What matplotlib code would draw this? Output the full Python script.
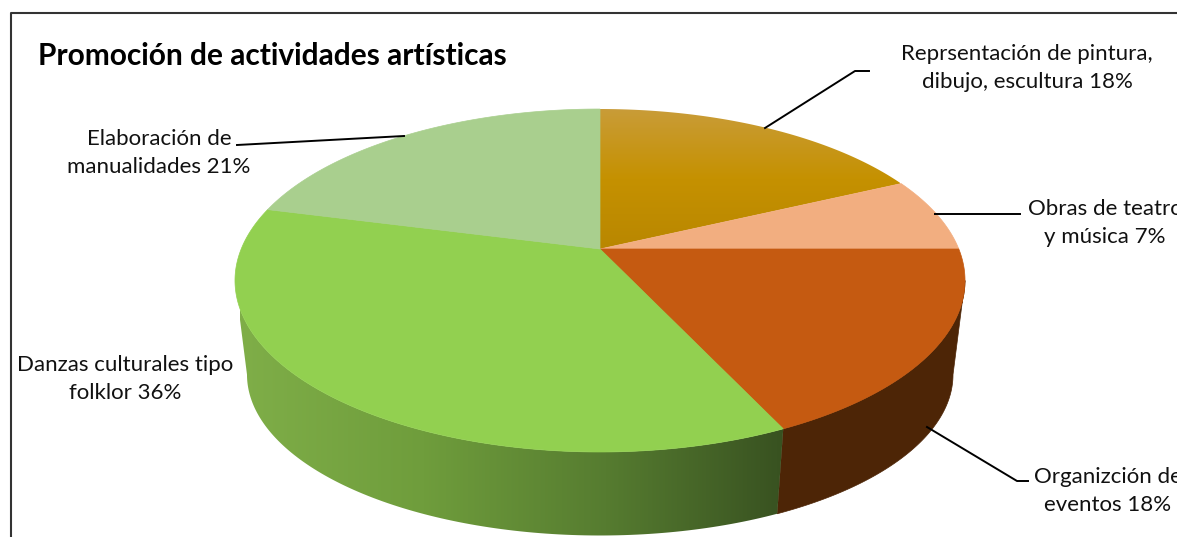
import numpy as np
import matplotlib.pyplot as plt
from matplotlib.colors import LinearSegmentedColormap
from matplotlib.patches import Polygon

plt.rcParams['font.family'] = ['Lato', 'DejaVu Sans']

# clockwise from the top of the pie
names = ['Reprsentación de pintura,\ndibujo, escultura', 'Obras de teatro\ny música',
         'Organizción de\neventos', 'Danzas culturales tipo\nfolklor', 'Elaboración de\nmanualidades']
values = [18, 7, 18, 36, 21]
top_colors = ['#c59100', '#f2ae80', '#c55a11', '#92d050', '#a9cf8e']
wall_colors = ['#7a5a00', '#9a6a40', '#4d2506', '#5a8030', '#6a8a50']

W, H = 1177, 537
# projected disc: perspective factor, centres and radii in pixels
K = 0.1837
TOP = dict(cx=600, cy=249, rx=358.8, ry=165.7)
BOTTOM = dict(cx=600, cy=345, rx=347, ry=155.5)


def rim(frac, d):
    phi = 2 * np.pi * np.asarray(frac)
    a, b = np.sin(phi), np.cos(phi)
    s = 1 / (1 + K * b)
    return d['cx'] + d['rx'] * a * s, d['cy'] - d['ry'] * b * s


def gradient(ax, colors, extent, clip, horizontal):
    cmap = LinearSegmentedColormap.from_list('g', colors)
    grad = np.linspace(0, 1, 256)
    grad = grad.reshape(1, -1) if horizontal else grad.reshape(-1, 1)
    im = ax.imshow(grad, cmap=cmap, extent=extent, aspect='auto', origin='upper', zorder=clip.get_zorder())
    im.set_clip_path(clip)


fig = plt.figure(figsize=(W / 100, H / 100), dpi=100)
ax = fig.add_axes([0, 0, 1, 1])

fracs = np.cumsum([0] + values) / sum(values)
# part of the rim facing the viewer
vis0 = np.arccos(-K) / (2 * np.pi)
vis1 = 1 - vis0

# side wall
for i in range(len(values)):
    f0, f1 = max(fracs[i], vis0), min(fracs[i + 1], vis1)
    if f0 >= f1:
        continue
    t = np.linspace(f0, f1, 120)
    x1, y1 = rim(t, TOP)
    x2, y2 = rim(t, BOTTOM)
    xy = np.column_stack([np.r_[x1, x2[::-1]], np.r_[y1, y2[::-1]]])
    if i == 3:
        clip = Polygon(xy, transform=ax.transData, zorder=2, fc='none', ec='none')
        ax.add_patch(clip)
        gradient(ax, ['#7fae48', '#6f9d3c', '#567c30', '#375020'], (240, 790, H, 0), clip, True)
    else:
        ax.fill(xy[:, 0], xy[:, 1], color=wall_colors[i], lw=0.5, zorder=2)

# top face
for i in range(len(values)):
    t = np.linspace(fracs[i], fracs[i + 1], 200)
    x, y = rim(t, TOP)
    xs = np.r_[TOP['cx'], x]
    ys = np.r_[TOP['cy'], y]
    if i == 0:
        clip = Polygon(np.column_stack([xs, ys]), transform=ax.transData, zorder=3, fc='none', ec='none')
        ax.add_patch(clip)
        gradient(ax, ['#c99c38', '#c59100', '#b98700'], (600, 900, 249, 109), clip, False)
    else:
        ax.fill(xs, ys, color=top_colors[i], lw=0.5, zorder=3)

# leader lines
leaders = [([765, 855, 869], [128, 71, 71]),
           ([935, 1020], [214, 214]),
           ([927, 1017, 1028], [427, 481, 481]),
           ([237, 404], [145, 136])]
for lx, ly in leaders:
    ax.plot(lx, ly, color='black', lw=1.4, zorder=4)

# labels
label_pos = [(1027, 68), (1105, 223), (1108, 491), (125.5, 379), (159, 153)]
for name, val, (lx, ly) in zip(names, values, label_pos):
    ax.text(lx, ly, f'{name} {val}%', ha='center', va='center', fontsize=16,
            color='#111111', linespacing=1.45, zorder=5)

ax.text(38, 56, 'Promoción de actividades artísticas', ha='left', va='center',
        fontsize=21.5, fontweight='bold', color='black', zorder=5)

# chart border, runs off the right and bottom of the image
ax.plot([11, 11, W + 5], [H + 5, 13, 13], color='#333333', lw=1.5, zorder=1)

ax.set_xlim(0, W)
ax.set_ylim(H, 0)
ax.axis('off')
fig.savefig('out.png', dpi=100)
